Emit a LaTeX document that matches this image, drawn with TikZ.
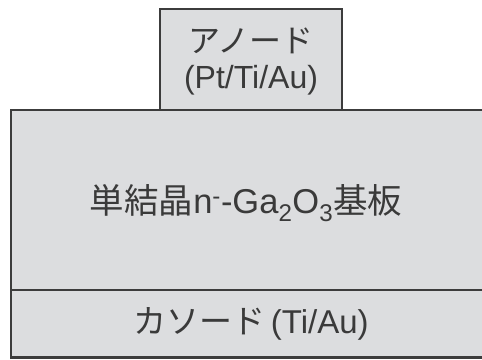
\documentclass[tikz,border=0pt]{standalone}
\usepackage{fontspec}
\setmainfont{Liberation Sans}
\newfontfamily\jpf{Noto Sans CJK JP}
\definecolor{fillg}{HTML}{DCDDDF}
\definecolor{lineg}{HTML}{3C3C3C}
\definecolor{textg}{HTML}{3A3A3A}
\tikzset{
  layer/.style={draw=lineg, fill=fillg, line width=2.6pt},
  lbl/.style={text=textg, font=\fontsize{32}{36}\selectfont, inner sep=0pt, align=center}
}
\begin{document}
\begin{tikzpicture}[x=1pt,y=-1pt]
\useasboundingbox (0,0) rectangle (482,359);
\begin{scope}
\clip (0,0) rectangle (482,359);
\draw[layer] (11,110) rectangle (495,290);
\draw[layer] (11,290) rectangle (495,357.5);
\draw[layer] (160,9) rectangle (342,110);
\end{scope}
\node[lbl] (anode) at (251,61) {{\jpf アノード}\\[0pt](Pt/Ti/Au)};
\node[lbl, font=\fontsize{34.5}{38}\selectfont] (sub) at (246,203) {{\jpf 単結晶}n\textsuperscript{-}-Ga\textsubscript{2}O\textsubscript{3}{\jpf 基板}};
\node[lbl, font=\fontsize{33}{36}\selectfont] (cath) at (251,324) {{\jpf カソード}\,(Ti/Au)};
\end{tikzpicture}
\end{document}
